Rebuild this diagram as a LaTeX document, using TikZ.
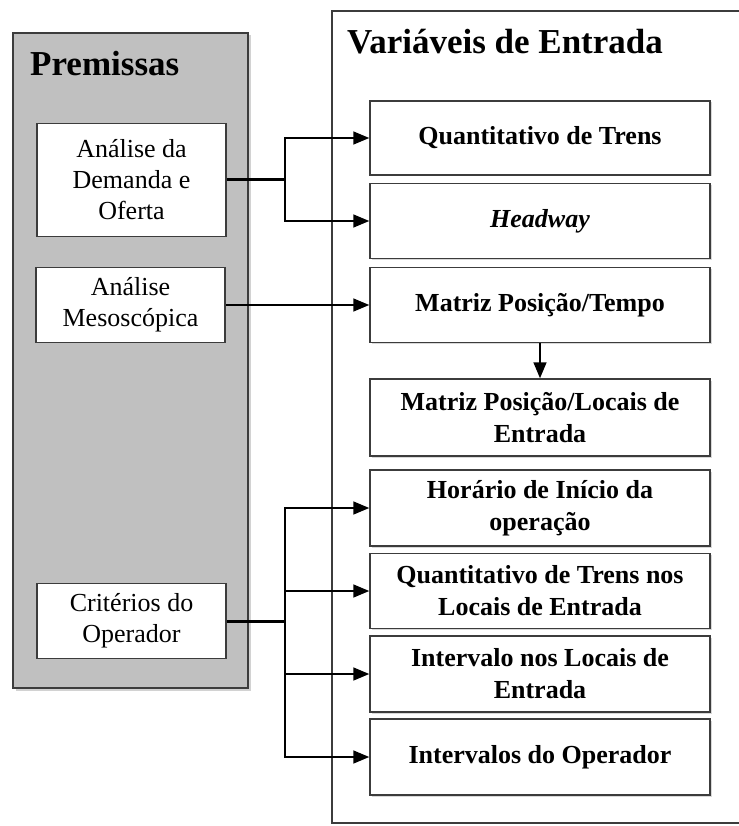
\documentclass[tikz,border=0pt]{standalone}
\usepackage{fontspec}
\setmainfont{Liberation Serif}
\usetikzlibrary{arrows.meta,shadows}
\definecolor{cinza}{HTML}{C0C0C0}
\definecolor{borda}{HTML}{3C3C3C}
\tikzset{
  painel/.style={draw=borda, line width=1.5pt},
  premissa/.style={draw=borda, line width=1.5pt, fill=white, minimum width=189pt, minimum height=75pt,
    align=center, inner sep=2pt, font=\fontsize{26}{31}\selectfont},
  variavel/.style={draw=borda, line width=1.5pt, fill=white, minimum width=340pt, minimum height=75pt,
    align=center, inner sep=2pt, font=\bfseries\fontsize{26}{32}\selectfont,
    drop shadow={shadow xshift=1.5pt, shadow yshift=-1.5pt, opacity=.3}},
  titulo/.style={anchor=base west, inner sep=0pt, font=\bfseries\fontsize{35}{40}\selectfont},
  seta/.style={-{Triangle[length=16pt,width=13pt]}, line width=1.6pt},
  grossa/.style={line width=3pt},
}

\begin{document}
\begin{tikzpicture}[x=1pt,y=-1pt]
\useasboundingbox (0,0) rectangle (738,826);
\fill[white] (0,0) rectangle (738,826);

% paineis
\node[painel, fill=cinza, minimum width=235pt, minimum height=655pt,
  drop shadow={shadow xshift=2.5pt, shadow yshift=-2.5pt, opacity=.35}] (premissas) at (130.5,360.5) {};
\node[painel, fill=white, minimum width=428pt, minimum height=812pt] (variaveis) at (546,417) {};
\node[titulo] (tpremissas) at (30,76) {Premissas};
\node[titulo] (tvariaveis) at (347,54) {Variáveis de Entrada};

% premissas
\node[premissa, minimum height=113pt] (demanda) at (131.5,180) {Análise da\\Demanda e\\Oferta};
\node[premissa] (meso) at (130.5,305) {Análise\\Mesoscópica};
\node[premissa] (operador) at (131.5,621) {Critérios do\\Operador};

% variaveis de entrada
\node[variavel, minimum height=74pt] (quant) at (540,138) {Quantitativo de Trens};
\node[variavel] (headway) at (540,221) {\itshape Headway};
\node[variavel] (postempo) at (540,305) {Matriz Posição/Tempo};
\node[variavel, minimum height=77pt] (poslocais) at (540,417.5) {Matriz Posição/Locais de\\Entrada};
\node[variavel, minimum height=76pt] (inicio) at (540,508) {Horário de Início da\\operação};
\node[variavel] (qtdlocais) at (540,591) {Quantitativo de Trens nos\\Locais de Entrada};
\node[variavel, minimum height=76pt] (intlocais) at (540,674) {Intervalo nos Locais de\\Entrada};
\node[variavel, minimum height=76pt] (intoper) at (540,757) {Intervalos do Operador};

% ligacoes
\coordinate (nodemanda) at (285,180);
\draw[grossa] (demanda.east) -- (nodemanda);
\draw[seta] (nodemanda) |- (quant.west);
\draw[seta] (nodemanda) |- (headway.west);
\draw[seta] (meso.east) -- (postempo.west);
\draw[seta] (postempo.south) -- (poslocais.north);
\coordinate (nooperador) at (285,621);
\draw[grossa] (operador.east) -- (nooperador);
\foreach \v in {inicio,qtdlocais,intlocais,intoper}
  \draw[seta] (nooperador) |- (\v.west);
\end{tikzpicture}
\end{document}
